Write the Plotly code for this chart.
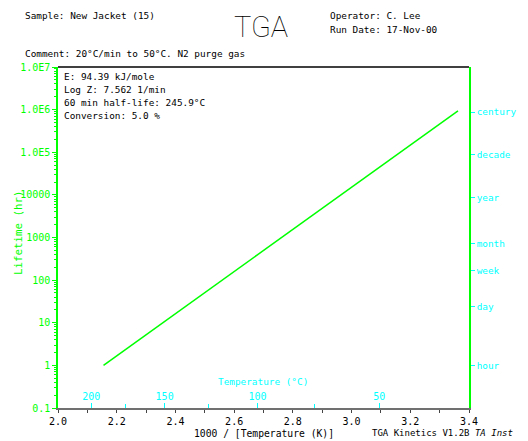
import numpy as np
import plotly.graph_objects as go

# ---- data ----
inv_temp = [2.155, 3.3625]          # 1000 / T(K)
lifetime_hr = [1.0, 9.4e5]          # lifetime (hr)

y_major_vals = [0.1, 1, 10, 100, 1000, 10000, 1e5, 1e6, 1e7]
y_major_text = ["0.1", "1", "10", "100", "1000", "10000", "1.0E5", "1.0E6", "1.0E7"]

time_names = ["hour", "day", "week", "month", "year", "decade", "century"]
time_hours = [1, 24, 168, 730, 8766, 87660, 876600]

temp_c_major = [200, 150, 100, 50]
temp_c_minor = [175, 125, 75]

info_lines = ["E: 94.39 kJ/mole", "Log Z: 7.562 1/min",
              "60 min half-life: 245.9°C", "Conversion: 5.0 %"]

# ---- layout geometry ----
W, H = 528, 441
L, R, T, B = 58, 479, 67, 408
MONO = "DejaVu Sans Mono"
GREEN = "#00ff00"
CYAN = "#00ffff"
FS = 9.4

def px(x):
    return (x - L) / (R - L)

def py(y):
    return (B - y) / (B - T)

y_minor = [k * 10.0 ** d for d in range(-1, 7) for k in range(2, 10)]

fig = go.Figure()
fig.add_trace(go.Scatter(x=inv_temp, y=lifetime_hr, mode="lines",
                         line=dict(color=GREEN, width=1.5),
                         showlegend=False, hoverinfo="skip"))
# invisible traces to anchor secondary axes
fig.add_trace(go.Scatter(x=inv_temp, y=lifetime_hr, mode="lines", xaxis="x2",
                         yaxis="y2", line=dict(color="rgba(0,0,0,0)"),
                         showlegend=False, hoverinfo="skip"))

fig.update_layout(
    width=W, height=H,
    margin=dict(l=L, r=W - R, t=T, b=H - B, pad=0),
    paper_bgcolor="white", plot_bgcolor="white",
    font=dict(family=MONO, size=FS, color="black"),
    xaxis=dict(range=[2.0, 3.4], tickvals=[2.0, 2.2, 2.4, 2.6, 2.8, 3.0, 3.2, 3.4],
               ticktext=["2.0", "2.2", "2.4", "2.6", "2.8", "3.0", "3.2", "3.4"],
               ticks="outside", ticklen=3, tickcolor="#444", tickwidth=1,
               minor=dict(tickvals=[2.1, 2.3, 2.5, 2.7, 2.9, 3.1, 3.3],
                          ticks="outside", ticklen=3, tickcolor="#444"),
               showline=True, linecolor="#707070", linewidth=2,
               showgrid=False, zeroline=False,
               tickfont=dict(family=MONO, size=FS + 0.6, color="black")),
    yaxis=dict(type="log", range=[-1, 7], tickvals=y_major_vals, ticktext=y_major_text,
               ticks="outside", ticklen=4, tickcolor=GREEN,
               minor=dict(tickvals=y_minor, ticks="outside", ticklen=2, tickcolor=GREEN),
               showline=True, linecolor=GREEN, linewidth=1.5,
               showgrid=False, zeroline=False,
               tickfont=dict(family=MONO, size=FS + 0.6, color=GREEN)),
    xaxis2=dict(overlaying="x", side="bottom", range=[2.0, 3.4],
                tickvals=[1000 / (c + 273.15) for c in temp_c_major],
                ticktext=[str(c) for c in temp_c_major],
                ticks="inside", ticklen=5, tickcolor=CYAN, tickwidth=1,
                ticklabelposition="inside",
                minor=dict(tickvals=[1000 / (c + 273.15) for c in temp_c_minor],
                           ticks="inside", ticklen=4, tickcolor=CYAN),
                showline=False, showgrid=False, zeroline=False,
                tickfont=dict(family=MONO, size=FS + 0.6, color=CYAN)),
    yaxis2=dict(type="log", range=[-1, 7], overlaying="y", side="right",
                tickvals=time_hours, ticktext=time_names,
                ticks="outside", ticklen=4, tickcolor=CYAN,
                showline=True, linecolor=GREEN, linewidth=1.5,
                showgrid=False, zeroline=False,
                tickfont=dict(family=MONO, size=FS, color=CYAN)),
)

# top border
fig.add_shape(type="line", xref="paper", yref="paper", x0=0, x1=1, y0=1, y1=1,
              line=dict(color="black", width=1.5))

ann = []
def text(x, y, s, size=FS, color="black", xanchor="left", family=MONO, angle=0, **kw):
    ann.append(dict(x=px(x), y=py(y), xref="paper", yref="paper", text=s,
                    showarrow=False, xanchor=xanchor, yanchor="middle",
                    textangle=angle,
                    font=dict(family=family, size=size, color=color, **kw)))

text(22, 16, "Sample: New Jacket (15)")
text(335, 16, "Operator: C. Lee")
text(335, 29, "Run Date: 17-Nov-00")
text(22, 53, "Comment: 20°C/min to 50°C. N2 purge gas")
text(266, 27, "TGA", size=29, xanchor="center", family="Roboto", weight=100)
for i, s in enumerate(info_lines):
    text(62, 76 + 13 * i, s)
text(268, 381, "Temperature (°C)", color=CYAN, xanchor="center")
text(269, 433, "1000 / [Temperature (K)]", xanchor="center", size=FS + 0.3)
text(378, 433, "TGA Kinetics V1.2B <i>TA Inst</i>", size=9.0)
text(17, 232, "Lifetime (hr)", color=GREEN, xanchor="center", angle=-90, size=10.8)
fig.update_layout(annotations=ann)

fig.write_html("out.html")
